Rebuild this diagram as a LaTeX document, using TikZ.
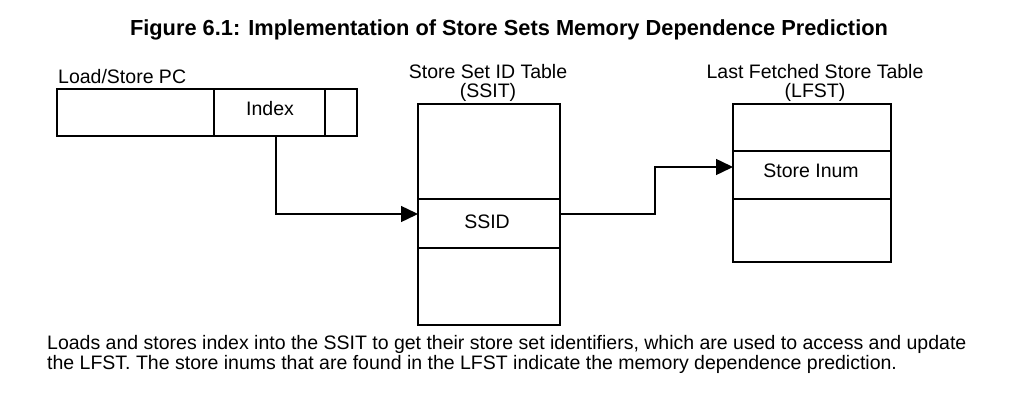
\documentclass[tikz,border=0pt]{standalone}
\usepackage{fontspec}
\setmainfont{Liberation Sans}
\usetikzlibrary{arrows.meta}
\begin{document}
\begin{tikzpicture}[x=1pt,y=-1pt,
  box/.style={draw,line width=1.4pt},
  lbl/.style={inner sep=0pt,font=\fontsize{19.5}{21}\selectfont},
  captext/.style={inner sep=0pt,anchor=west,font=\fontsize{19.5}{21}\selectfont},
  conn/.style={line width=1.4pt,-{Triangle[length=17pt,width=16pt]}},
]
\useasboundingbox (0,0) rectangle (1024,409);
% title
\node[inner sep=0pt,font=\fontsize{21.8}{24}\bfseries\selectfont] (title) at (509,30) {Figure 6.1: Implementation of Store Sets Memory Dependence Prediction};
% Load/Store PC
\node[lbl,anchor=west] (pclbl) at (58,77) {Load/Store PC};
\draw[box] (57,89) rectangle (357,136);
\draw[box] (214,89) -- (214,136);
\draw[box] (325,89) -- (325,136);
\node[lbl] (index) at (270,109) {Index};
\coordinate (idxbot) at (276,136);
% SSIT
\node[lbl] (ssitt1) at (488,72) {Store Set ID Table};
\node[lbl] (ssitt2) at (488,92) {(SSIT)};
\draw[box] (418,104) rectangle (560,325);
\draw[box] (418,199) -- (560,199);
\draw[box] (418,248) -- (560,248);
\node[lbl] (ssid) at (487,222) {SSID};
\coordinate (ssitin) at (418,214);
\coordinate (ssitout) at (560,214);
% LFST
\node[lbl] (lfstt1) at (815,72) {Last Fetched Store Table};
\node[lbl] (lfstt2) at (815,92) {(LFST)};
\draw[box] (733,104) rectangle (891,262);
\draw[box] (733,151) -- (891,151);
\draw[box] (733,199) -- (891,199);
\node[lbl] (inum) at (811,171) {Store Inum};
\coordinate (lfstin) at (733,167);
% connectors
\draw[conn] (idxbot) |- (ssitin);
\draw[conn] (ssitout) -- (655,214) |- (lfstin);
% caption
\node[captext] (cap1) at (47,344) {Loads and stores index into the SSIT to get their store set identifiers, which are used to access and update};
\node[captext] (cap2) at (47,364) {the LFST. The store inums that are found in the LFST indicate the memory dependence prediction.};
\end{tikzpicture}
\end{document}
